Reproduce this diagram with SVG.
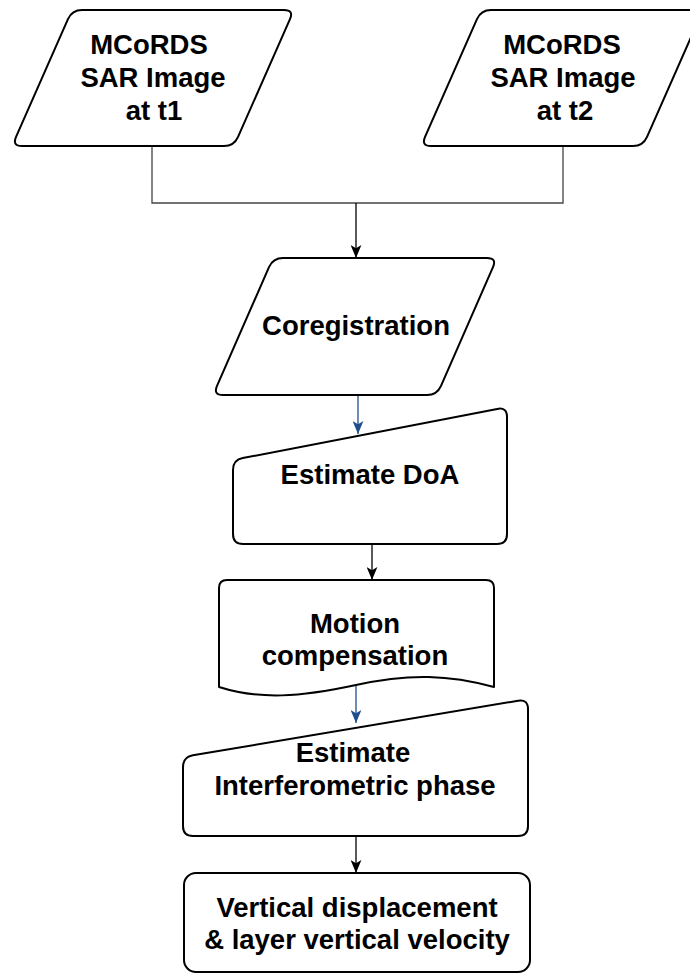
<svg xmlns="http://www.w3.org/2000/svg" width="690" height="974" viewBox="0 0 690 974">
<style>
.shape{fill:#fff;stroke:#000;stroke-width:2;stroke-linejoin:round}
.t{font-family:"Liberation Sans",Arial,sans-serif;font-weight:bold;font-size:27.5px;fill:#000;text-anchor:middle}
.c{fill:none;stroke:#000;stroke-width:1.3}
.g{fill:none;stroke:#444;stroke-width:1.3}
.b{fill:none;stroke:#1f4e8c;stroke-width:1.3}
</style>
<defs>
<marker id="ak" viewBox="0 0 12 10" refX="12" refY="5" markerWidth="13" markerHeight="11" markerUnits="userSpaceOnUse" orient="auto">
<path d="M0,0 L12,5 L0,10 L3,5 Z" fill="#000"/>
</marker>
<marker id="ab" viewBox="0 0 12 10" refX="12" refY="5" markerWidth="13" markerHeight="11" markerUnits="userSpaceOnUse" orient="auto">
<path d="M0,0 L12,5 L0,10 L3,5 Z" fill="#1f4e8c"/>
</marker>
</defs>
<g id="connectors">
<path class="g" d="M152,146 L152,203 L563,203 L563,146"/>
<path class="c" d="M356,203 L356,258" marker-end="url(#ak)"/>
<path class="b" d="M358,395 L358,434" marker-end="url(#ab)"/>
<path class="c" d="M372,544 L372,580" marker-end="url(#ak)"/>
<path class="b" d="M356,684 L356,723" marker-end="url(#ab)"/>
<path class="c" d="M356,836 L356,873" marker-end="url(#ak)"/>
</g>
<g id="sar_t1">
<path class="shape" d="M82,10 L284,10 Q294,10 289.96,19.15 L238.04,136.85 Q234,146 224,146 L22,146 Q12,146 16.04,136.85 L67.96,19.15 Q72,10 82,10 Z"/>
<text class="t" x="149" y="54">MCoRDS</text>
<text class="t" x="153" y="87">SAR Image</text>
<text class="t" x="154" y="120">at t1</text>
</g>
<g id="sar_t2">
<path class="shape" d="M491,10 L693,10 Q703,10 698.96,19.15 L647.04,136.85 Q643,146 633,146 L431,146 Q421,146 425.04,136.85 L476.96,19.15 Q481,10 491,10 Z"/>
<text class="t" x="562" y="54">MCoRDS</text>
<text class="t" x="563" y="87">SAR Image</text>
<text class="t" x="565" y="120">at t2</text>
</g>
<g id="coregistration">
<path class="shape" d="M283,258 L487,258 Q497,258 492.99,267.16 L441.01,385.84 Q437,395 427,395 L223,395 Q213,395 217.01,385.84 L268.99,267.16 Q273,258 283,258 Z"/>
<text class="t" x="356" y="335">Coregistration</text>
</g>
<g id="estimate_doa">
<path class="shape" d="M233,470 Q233,460 242.8,458.1 L497.2,408.9 Q507,407 507,417 L507,534 Q507,544 497,544 L243,544 Q233,544 233,534 Z"/>
<text class="t" x="370" y="484">Estimate DoA</text>
</g>
<g id="motion_compensation">
<path class="shape" d="M219,687 L219,588 Q219,580 227,580 L486,580 Q494,580 494,588 L494,687 C450,675 410,673 356,685 C300,697 260,700 219,687 Z"/>
<text class="t" x="355" y="633">Motion</text>
<text class="t" x="355" y="665">compensation</text>
</g>
<g id="estimate_phase">
<path class="shape" d="M183,767 Q183,757 192.9,755.3 L518.1,700.7 Q528,699 528,709 L528,826 Q528,836 518,836 L193,836 Q183,836 183,826 Z"/>
<text class="t" x="353" y="762">Estimate</text>
<text class="t" x="355" y="795">Interferometric phase</text>
</g>
<g id="vertical_displacement">
<rect class="shape" x="184" y="873" width="346" height="99" rx="12" ry="12"/>
<text class="t" x="357" y="917">Vertical displacement</text>
<text class="t" x="357" y="949">&amp; layer vertical velocity</text>
</g>
</svg>
